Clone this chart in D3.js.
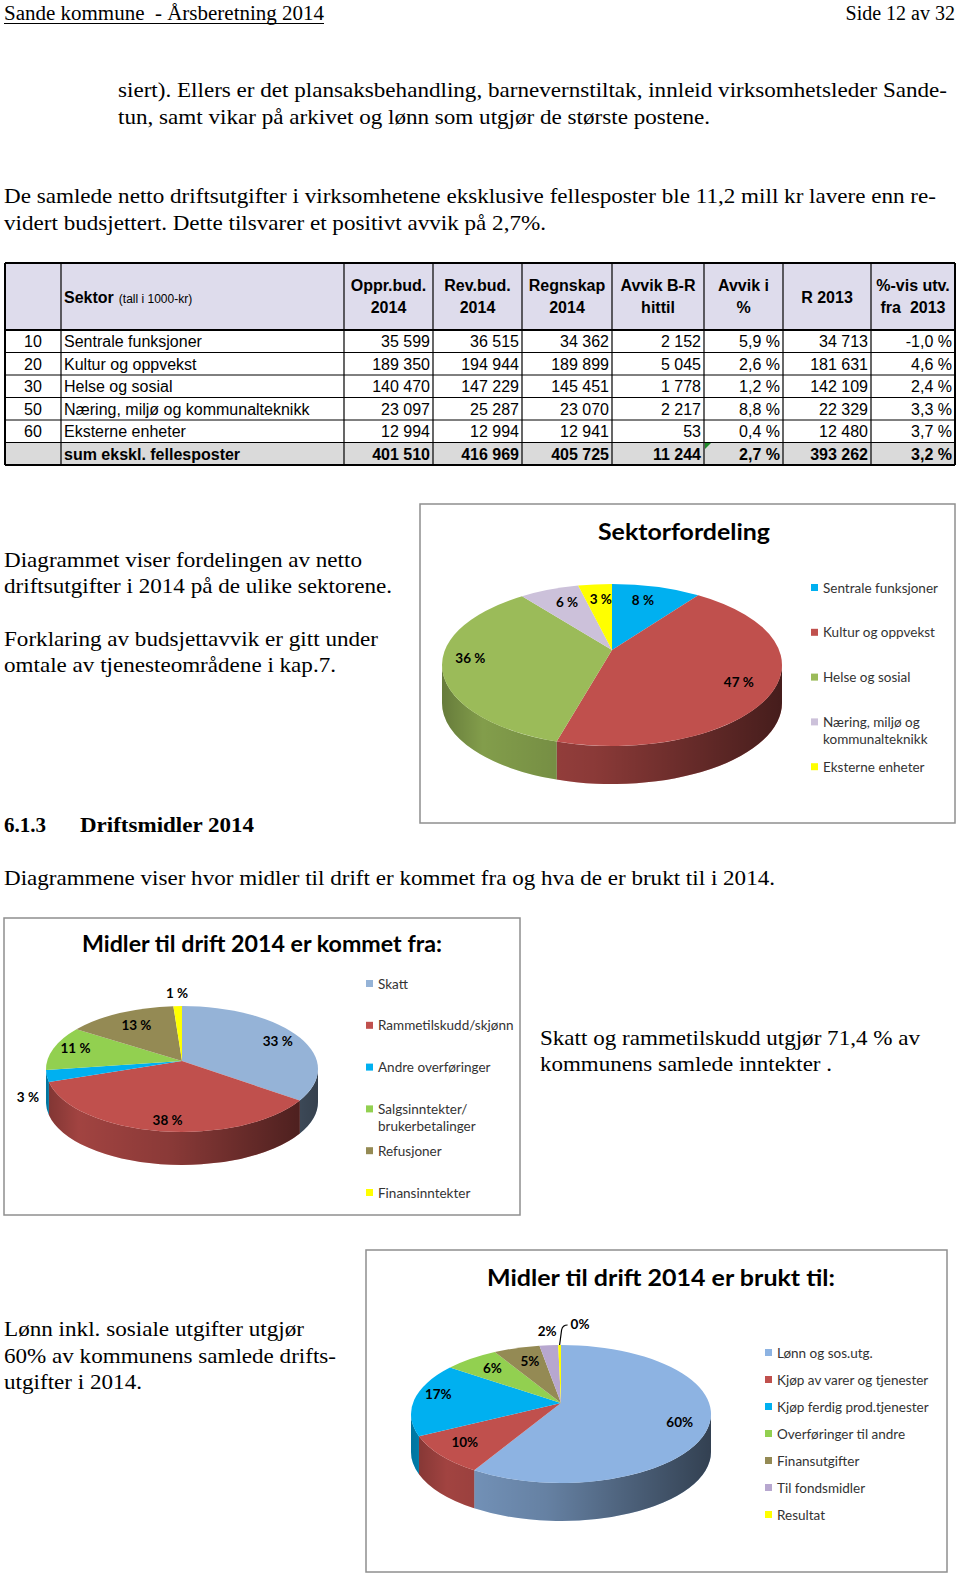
<!DOCTYPE html>
<html>
<head>
<meta charset="utf-8">
<script src="https://cdn.jsdelivr.net/npm/d3@7"></script>
<style>
  body { margin: 0; background: #fff; }
  svg { display: block; }
  svg text { white-space: pre; }
</style>
</head>
<body>
<div id="side"></div>
<script>
// Tabell: netto driftsutgifter per sektor (tall i 1000-kr)
const sektorKoder = ['10', '20', '30', '50', '60']
const sektorNavn = ['Sentrale funksjoner', 'Kultur og oppvekst', 'Helse og sosial', 'Næring, miljø og kommunalteknikk', 'Eksterne enheter']
const opprBud = [35599, 189350, 140470, 23097, 12994]
const revBud = [36515, 194944, 147229, 25287, 12994]
const regnskap = [34362, 189899, 145451, 23070, 12941]
const avvikBR = [2152, 5045, 1778, 2217, 53]
const avvikPst = [5.9, 2.6, 1.2, 8.8, 0.4]
const r2013 = [34713, 181631, 142109, 22329, 12480]
const utvPst = [-1.0, 4.6, 2.4, 3.3, 3.7]
const sumNavn = 'sum ekskl. fellesposter'
const sumRad = [401510, 416969, 405725, 11244, 2.7, 393262, 3.2]
const kolonneTitler = [['Oppr.bud.', '2014'], ['Rev.bud.', '2014'], ['Regnskap', '2014'], ['Avvik B-R', 'hittil'], ['Avvik i', '%'], ['R 2013'], ['%-vis utv.', 'fra  2013']]

// Kakediagram 1: sektorfordeling (regnskap 2014)
const sektorLegende = ['Sentrale funksjoner', 'Kultur og oppvekst', 'Helse og sosial', 'Næring, miljø og|kommunalteknikk', 'Eksterne enheter']

// Kakediagram 2: inntekter
const inntektNavn = ['Skatt', 'Rammetilskudd/skjønn', 'Andre overføringer', 'Salgsinntekter/|brukerbetalinger', 'Refusjoner', 'Finansinntekter']
const inntektPst = [33, 38, 3, 11, 13, 1]

// Kakediagram 3: utgifter
const utgiftNavn = ['Lønn og sos.utg.', 'Kjøp av varer og tjenester', 'Kjøp ferdig prod.tjenester', 'Overføringer til andre', 'Finansutgifter', 'Til fondsmidler', 'Resultat']
const utgiftPst = [60, 10, 17, 6, 5, 2, 0.3]

const serif = '"Liberation Serif", "Times New Roman", serif'
const sans = '"Liberation Sans", Arial, sans-serif'
const calibri = 'Lato, "Open Sans", sans-serif'

const svg = d3.select('#side').append('svg')
  .attr('width', 960)
  .attr('height', 1577)

svg.append('rect').attr('width', 960).attr('height', 1577).attr('fill', '#fff')

const defs = svg.append('defs')

function tekst(g, x, y, s, o = {}) {
  const t = g.append('text')
    .attr('x', x)
    .attr('y', y)
    .attr('font-family', o.family || serif)
    .attr('font-size', o.size || 21)
    .attr('font-weight', o.bold ? 'bold' : 'normal')
    .attr('fill', o.color || '#000')
    .attr('text-anchor', o.anchor || 'start')
    .text(s)
  if (o.len) {
    t.attr('textLength', o.len).attr('lengthAdjust', 'spacingAndGlyphs')
  }
  return t
}

// ---- topptekst og brødtekst ----
tekst(svg, 4, 20, 'Sande kommune  - Årsberetning 2014', { size: 20, len: 320 })
svg.append('line').attr('x1', 4).attr('x2', 324).attr('y1', 23.5).attr('y2', 23.5).attr('stroke', '#000').attr('stroke-width', 1)
tekst(svg, 955, 20, 'Side 12 av 32', { size: 20, anchor: 'end' })

tekst(svg, 118, 97, 'siert). Ellers er det plansaksbehandling, barnevernstiltak, innleid virksomhetsleder Sande-', { len: 829 })
tekst(svg, 118, 124, 'tun, samt vikar på arkivet og lønn som utgjør de største postene.', { len: 592 })
tekst(svg, 4, 203, 'De samlede netto driftsutgifter i virksomhetene eksklusive fellesposter ble 11,2 mill kr lavere enn re-', { len: 932 })
tekst(svg, 4, 230, 'vidert budsjettert. Dette tilsvarer et positivt avvik på 2,7%.', { len: 542 })

tekst(svg, 4, 567, 'Diagrammet viser fordelingen av netto', { len: 358 })
tekst(svg, 4, 593, 'driftsutgifter i 2014 på de ulike sektorene.', { len: 388 })
tekst(svg, 4, 646, 'Forklaring av budsjettavvik er gitt under', { len: 374 })
tekst(svg, 4, 672, 'omtale av tjenesteområdene i kap.7.', { len: 332 })

tekst(svg, 4, 832, '6.1.3', { bold: true })
tekst(svg, 80, 832, 'Driftsmidler 2014', { bold: true, len: 174 })
tekst(svg, 4, 885, 'Diagrammene viser hvor midler til drift er kommet fra og hva de er brukt til i 2014.', { len: 771 })

tekst(svg, 540, 1045, 'Skatt og rammetilskudd utgjør 71,4 % av', { len: 380 })
tekst(svg, 540, 1071, 'kommunens samlede inntekter .', { len: 292 })

tekst(svg, 4, 1336, 'Lønn inkl. sosiale utgifter utgjør', { len: 300 })
tekst(svg, 4, 1363, '60% av kommunens samlede drifts-', { len: 332 })
tekst(svg, 4, 1389, 'utgifter i 2014.', { len: 138 })

// ---- tabell ----
const kolX = [5, 61, 344, 433, 522, 612, 704, 783, 871, 955]
const tabTopp = 263
const hodeBunn = 330
const radH = 22.5
const nRader = sektorKoder.length + 1
const tabBunn = hodeBunn + radH * nRader

const nok = d3.formatLocale({ decimal: ',', thousands: ' ', grouping: [3], currency: ['', ' kr'] })
const fmtTall = nok.format(',d')
const fmtPst = v => v.toFixed(1).replace('.', ',') + ' %'

const tab = svg.append('g').attr('class', 'tabell')

tab.append('rect')
  .attr('x', kolX[0]).attr('y', tabTopp)
  .attr('width', kolX[9] - kolX[0]).attr('height', hodeBunn - tabTopp)
  .attr('fill', '#dedcec')
tab.append('rect')
  .attr('x', kolX[0]).attr('y', tabBunn - radH)
  .attr('width', kolX[9] - kolX[0]).attr('height', radH)
  .attr('fill', '#dadada')

// overskrifter
const sektorHode = tekst(tab, 64, 303, 'Sektor', { family: sans, size: 16, bold: true })
sektorHode.append('tspan').attr('font-size', 12).attr('font-weight', 'normal').attr('dx', 5).text('(tall i 1000-kr)')

kolonneTitler.forEach((linjer, i) => {
  const mx = (kolX[i + 2] + kolX[i + 3]) / 2
  if (linjer.length === 1) {
    tekst(tab, mx, 303, linjer[0], { family: sans, size: 16, bold: true, anchor: 'middle' })
  } else {
    tekst(tab, mx, 291, linjer[0], { family: sans, size: 16, bold: true, anchor: 'middle' })
    tekst(tab, mx, 313, linjer[1], { family: sans, size: 16, bold: true, anchor: 'middle' })
  }
})

// rader
const rader = sektorKoder.map((k, i) => ({
  kode: k,
  navn: sektorNavn[i],
  verdier: [fmtTall(opprBud[i]), fmtTall(revBud[i]), fmtTall(regnskap[i]), fmtTall(avvikBR[i]), fmtPst(avvikPst[i]), fmtTall(r2013[i]), fmtPst(utvPst[i])],
  fet: false,
}))
rader.push({
  kode: '',
  navn: sumNavn,
  verdier: sumRad.map((v, j) => (j === 4 || j === 6) ? fmtPst(v) : fmtTall(v)),
  fet: true,
})

rader.forEach((r, i) => {
  const yb = hodeBunn + radH * i + radH / 2 + 6
  tekst(tab, (kolX[0] + kolX[1]) / 2, yb, r.kode, { family: sans, size: 16, anchor: 'middle' })
  tekst(tab, 64, yb, r.navn, { family: sans, size: 16, bold: r.fet })
  r.verdier.forEach((v, j) => {
    tekst(tab, kolX[j + 3] - 3, yb, v, { family: sans, size: 16, bold: r.fet, anchor: 'end' })
  })
})

// linjer
for (let i = 0; i <= nRader; i++) {
  const y = hodeBunn + radH * i
  tab.append('line').attr('x1', kolX[0]).attr('x2', kolX[9]).attr('y1', y).attr('y2', y)
    .attr('stroke', '#000').attr('stroke-width', i === 0 || i === nRader ? 1.8 : 1)
}
kolX.forEach((x, i) => {
  tab.append('line').attr('x1', x).attr('x2', x).attr('y1', tabTopp).attr('y2', tabBunn)
    .attr('stroke', '#000').attr('stroke-width', i === 0 || i === 9 ? 2 : 1.2)
})
tab.append('line').attr('x1', kolX[0]).attr('x2', kolX[9]).attr('y1', tabTopp).attr('y2', tabTopp)
  .attr('stroke', '#000').attr('stroke-width', 2)
// grønn kommentartrekant i sumraden
tab.append('path')
  .attr('d', `M${kolX[6] + 1},${tabBunn - radH + 0.5}h6l-6,6z`)
  .attr('fill', '#1f8a2a')

// ---- 3D-kakediagram ----
function kake3d(cfg) {
  const g = svg.append('g').attr('class', 'kake')

  g.append('rect')
    .attr('x', cfg.boks[0]).attr('y', cfg.boks[1])
    .attr('width', cfg.boks[2] - cfg.boks[0]).attr('height', cfg.boks[3] - cfg.boks[1])
    .attr('fill', '#fff').attr('stroke', '#8f8f8f').attr('stroke-width', 1.5)

  tekst(g, cfg.tittelX, cfg.tittelY, cfg.tittel, { family: calibri, size: cfg.tittelStr, bold: true, anchor: 'middle', len: cfg.tittelLen })

  const { cx, cy, rx, ry, depth } = cfg
  // perspektiv: sentrum i toppflaten ligger litt over ellipsens midtpunkt
  const topY = cy - cfg.skyv
  const total = d3.sum(cfg.verdier)
  const arcs = d3.pie().sort(null).startAngle(0).endAngle(2 * Math.PI)(cfg.verdier)
  const p = (a, dy = 0) => [cx + rx * Math.sin(a), cy - ry * Math.cos(a) + dy]

  const gradId = 'skygge' + cfg.id
  const grad = defs.append('linearGradient')
    .attr('id', gradId)
    .attr('gradientUnits', 'userSpaceOnUse')
    .attr('x1', cx - rx).attr('x2', cx + rx).attr('y1', 0).attr('y2', 0)
  ;[[0, 0.34], [0.12, 0.16], [0.45, 0.28], [1, 0.64]].forEach(([o, a]) => {
    grad.append('stop').attr('offset', o).attr('stop-color', '#000').attr('stop-opacity', a)
  })

  // sidevegger (bare fremre halvdel er synlig)
  const sider = arcs.map((d, i) => {
    const s = Math.max(d.startAngle, Math.PI / 2)
    const e = Math.min(d.endAngle, 3 * Math.PI / 2)
    if (e <= s) return null
    const a = p(s), b = p(e), bb = p(e, depth), ab = p(s, depth)
    return {
      i,
      d: `M${a}A${rx},${ry} 0 0 1 ${b}L${bb}A${rx},${ry} 0 0 0 ${ab}Z`,
    }
  }).filter(Boolean)

  g.append('g').selectAll('path').data(sider).join('path')
    .attr('d', d => d.d)
    .attr('fill', d => cfg.farger[d.i])
  g.append('g').selectAll('path').data(sider).join('path')
    .attr('d', d => d.d)
    .attr('fill', `url(#${gradId})`)

  // toppflate
  g.append('g').selectAll('path').data(arcs).join('path')
    .attr('d', d => {
      const a = p(d.startAngle), b = p(d.endAngle)
      const stor = d.endAngle - d.startAngle > Math.PI ? 1 : 0
      return `M${cx},${topY}L${a}A${rx},${ry} 0 ${stor} 1 ${b}Z`
    })
    .attr('fill', (d, i) => cfg.farger[i])

  // dataetiketter
  arcs.forEach((d, i) => {
    const pst = d.value / total * 100
    const navn = Math.round(pst) + cfg.pstTegn
    const m = (d.startAngle + d.endAngle) / 2
    const sx = Math.sin(m), cy0 = -Math.cos(m)
    if (pst < 0.5) {
      const [ex, ey] = p(m)
      g.append('path')
        .attr('d', `M${ex},${ey}L${ex + 2},${ey - 15}Q${ex + 3},${ey - 20} ${ex + 8},${ey - 20}`)
        .attr('fill', 'none').attr('stroke', '#000').attr('stroke-width', 1.2)
      tekst(g, ex + 11, ey - 16, navn, { family: calibri, size: 13.5, bold: true })
    } else if (pst < cfg.utenforUnder) {
      const x = cx + rx * 1.14 * sx
      const y = cy + ry * 1.2 * cy0 + (cy0 > 0 ? depth * 0.6 : 0)
      tekst(g, x, y + 4.5, navn, { family: calibri, size: 13.5, bold: true, anchor: 'middle' })
    } else {
      const kx = 0.64 + 0.2 * Math.abs(sx)
      const ky = cy0 > 0 ? 0.95 : 0.63
      const x = cx + rx * kx * sx
      const y = topY + ry * ky * cy0
      tekst(g, x, y + 4.5, navn, { family: calibri, size: 13.5, bold: true, anchor: 'middle' })
    }
  })

  // forklaring
  cfg.legende.forEach((s, i) => {
    const y = cfg.legTopp + cfg.legSteg * i
    g.append('rect')
      .attr('x', cfg.legX).attr('y', y - 4).attr('width', 7).attr('height', 7)
      .attr('fill', cfg.farger[i])
    s.split('|').forEach((linje, k) => {
      tekst(g, cfg.legX + 12, y + 4.5 + k * 17, linje, { family: calibri, size: 13.5, color: '#333' })
    })
  })
}

kake3d({
  id: 1,
  boks: [420, 504, 955, 823],
  tittel: 'Sektorfordeling', tittelX: 684, tittelY: 540, tittelStr: 23, tittelLen: 172,
  verdier: regnskap,
  farger: ['#00b0f0', '#c0504d', '#9bbb59', '#ccc1da', '#ffff00'],
  cx: 612, cy: 665, rx: 170, ry: 81, depth: 38, skyv: 15,
  utenforUnder: 2.5, pstTegn: ' %',
  legende: sektorLegende, legX: 811, legTopp: 588, legSteg: 44.8,
})

kake3d({
  id: 2,
  boks: [4, 918, 520, 1215],
  tittel: 'Midler til drift 2014 er kommet fra:', tittelX: 262, tittelY: 952, tittelStr: 22, tittelLen: 360,
  verdier: inntektPst,
  farger: ['#95b3d7', '#c0504d', '#00b0f0', '#92d050', '#948a54', '#ffff00'],
  cx: 182, cy: 1069, rx: 136, ry: 63, depth: 33, skyv: 8,
  utenforUnder: 4, pstTegn: ' %',
  legende: inntektNavn, legX: 366, legTopp: 984, legSteg: 41.8,
})

kake3d({
  id: 3,
  boks: [366, 1250, 947, 1572],
  tittel: 'Midler til drift 2014 er brukt til:', tittelX: 661, tittelY: 1286, tittelStr: 22, tittelLen: 348,
  verdier: utgiftPst,
  farger: ['#8db3e2', '#c0504d', '#00b0f0', '#92d050', '#948a54', '#b7a7cf', '#ffff00'],
  cx: 561, cy: 1414, rx: 150, ry: 69, depth: 38, skyv: 11,
  utenforUnder: 2.5, pstTegn: '%',
  legende: utgiftNavn, legX: 765, legTopp: 1353, legSteg: 27,
})
</script>
</body>
</html>
